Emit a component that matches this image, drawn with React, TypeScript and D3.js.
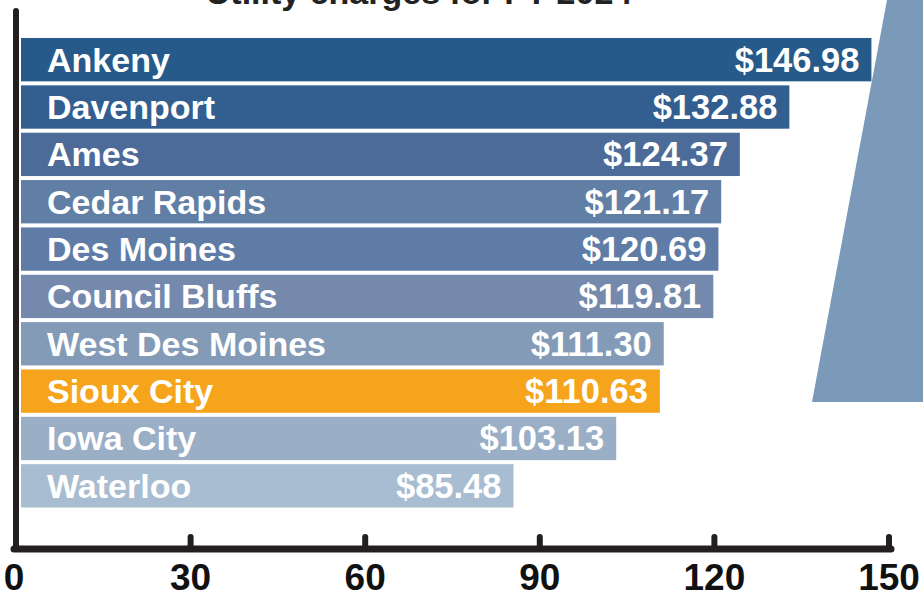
import * as d3 from 'd3';

const cities = ['Ankeny', 'Davenport', 'Ames', 'Cedar Rapids', 'Des Moines', 'Council Bluffs', 'West Des Moines', 'Sioux City', 'Iowa City', 'Waterloo'];
const charges = [146.98, 132.88, 124.37, 121.17, 120.69, 119.81, 111.30, 110.63, 103.13, 85.48];
const barColors = ['#265a8a', '#335e90', '#4d6b98', '#617ea5', '#5f7ca6', '#7589ad', '#839bb7', '#f7a41d', '#9aaec5', '#a8bdd1'];
const tickValues = [0, 30, 60, 90, 120, 150];
const title = 'Utility charges for FY 2024';

const width = 923;
const height = 595;
const font = 'Liberation Sans, Arial, Helvetica, sans-serif';

export default function App() {
  const x = d3.scaleLinear().domain([0, 150]).range([16, 889]);
  const y = d3.scaleBand<string>()
    .domain(cities)
    .range([36, 509.5])
    .paddingInner(0.085)
    .paddingOuter(0.0425);
  const axisY = 549;

  const rows = cities.map((c, i) => ({ city: c, value: charges[i], color: barColors[i] }));

  return (
    <svg width={width} height={height} style={{ position: 'absolute', left: 0, top: 0 }}>
      <polygon points={`887,0 ${width},0 ${width},402 812,402`} fill="#7b99b8" />
      {/* title is cropped at the top edge in the source image */}
      <text x={419} y={4} textAnchor="middle" fontFamily={font} fontWeight="bold" fontSize={34} fill="#222">{title}</text>

      <g>
        {rows.map(r => {
          const top = y(r.city)!;
          const mid = top + y.bandwidth() / 2;
          return (
            <g key={r.city}>
              <rect x={21} y={top} width={x(r.value) - 21} height={y.bandwidth()} fill={r.color} />
              <text x={47} y={mid + 12} fontFamily={font} fontWeight="bold" fontSize={34} fill="#fff">{r.city}</text>
              <text x={x(r.value) - 12} y={mid + 12} textAnchor="end" fontFamily={font} fontWeight="bold" fontSize={34.5} fill="#fff">
                ${r.value.toFixed(2)}
              </text>
            </g>
          );
        })}
      </g>

      <line x1={16} x2={16} y1={11} y2={axisY} stroke="#231f20" strokeWidth={6} strokeLinecap="round" />
      <line x1={14} x2={x(150) + 2} y1={axisY} y2={axisY} stroke="#231f20" strokeWidth={7} strokeLinecap="round" />
      {tickValues.map(t => (
        <g key={t}>
          {t > 0 && <line x1={x(t)} x2={x(t)} y1={537} y2={axisY} stroke="#231f20" strokeWidth={6} strokeLinecap="round" />}
          <text x={x(t) + (t === 0 ? -2 : 0)} y={590} textAnchor="middle" fontFamily={font} fontWeight="bold" fontSize={37} fill="#111">{t}</text>
        </g>
      ))}
    </svg>
  );
}
